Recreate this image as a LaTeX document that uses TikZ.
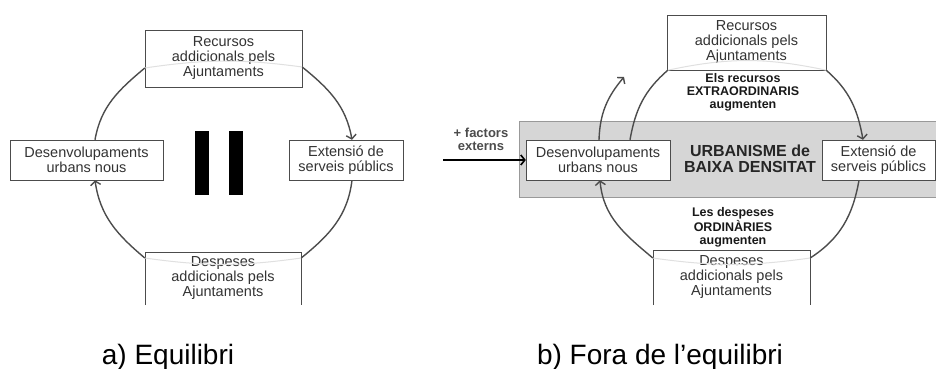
\documentclass[tikz,border=0pt]{standalone}
\usepackage{fontspec}
\setmainfont{Liberation Sans}
\usetikzlibrary{arrows.meta}

\begin{document}
\begin{tikzpicture}[>={Straight Barb[length=4pt,width=10pt]}, x=1pt, y=1pt,
    caixa/.style={draw=black!70, fill=white, align=center, text=black!80, inner sep=0pt,
        font=\fontsize{14.5}{15}\selectfont},
    fletxa/.style={draw=black!70, line width=1.4pt},
    tenue/.style={draw=black!12, line width=1pt},
    negreta/.style={align=center, text=black!90, font=\bfseries\fontsize{12.5}{13}\selectfont},
    peu/.style={font=\fontsize{28}{30}\selectfont}]
\useasboundingbox (0,0) rectangle (936,369);
% a) Equilibri
\begin{scope}
    \node[caixa, minimum width=157pt, minimum height=57pt] (rec) at (223.5,310.5) {Recursos\\addicionals pels\\Ajuntaments};
    \node[caixa, minimum width=153pt, minimum height=40pt] (des) at (86.5,209) {Desenvolupaments\\urbans nous};
    \node[caixa, minimum width=114pt, minimum height=40pt] (ext) at (346,209) {Extensió de\\serveis públics};
    \node[caixa, draw=none, minimum width=156pt, minimum height=53pt] (desp) at (223,90.5) {Despeses\\addicionals pels\\Ajuntaments};
    \draw[black!70] (desp.south west) |- (desp.north east) -- (desp.south east);
    \draw[tenue] ([yshift=-9.5pt]rec.west) to[bend left=8] ([yshift=-8.5pt]rec.east);
    \draw[tenue] ([yshift=20.5pt]desp.west) to[bend right=8] ([yshift=20.5pt]desp.east);
    \draw[fletxa] ([xshift=8.5pt]des.north) to[out=80,in=-140] ([yshift=-9.5pt]rec.west);
    \draw[fletxa,->] ([yshift=-8.5pt]rec.east) to[out=-39,in=100] ([xshift=6pt]ext.north);
    \draw[fletxa] ([xshift=6pt]ext.south) to[out=-97,in=39] ([yshift=20.5pt]desp.east);
    \draw[fletxa,->] ([yshift=20.5pt]desp.west) to[out=140,in=-82] ([xshift=8.5pt]des.south);
    \fill (195,174) rectangle (209,238);
    \fill (229,174) rectangle (243,238);
    \node[peu] (capa) at (168,12) {a) Equilibri};
\end{scope}
% b) Fora de l'equilibri
\begin{scope}
    \draw[fill=black!16, draw=black!40] (519,172) rectangle (936,248);
    \node[caixa, minimum width=159pt, minimum height=55pt] (rec2) at (746.5,326.5) {Recursos\\addicionals pels\\Ajuntaments};
    \node[caixa, minimum width=144pt, minimum height=40pt] (des2) at (598,209) {Desenvolupaments\\urbans nous};
    \node[caixa, minimum width=113pt, minimum height=40pt] (ext2) at (878.5,209) {Extensió de\\serveis públics};
    \node[caixa, draw=none, minimum width=157pt, minimum height=55pt] (desp2) at (731.5,91.5) {Despeses\\addicionals pels\\Ajuntaments};
    \draw[black!70] (desp2.south west) |- (desp2.north east) -- (desp2.south east);
    \draw[tenue] ([xshift=1pt]rec2.south west) to[bend left=12] (rec2.south east);
    \draw[tenue] ([yshift=19.5pt]desp2.west) to[bend right=8] ([yshift=19.5pt]desp2.east);
    \coordinate (amunt) at (624,292);
    \coordinate (fora) at (443,209);
    \draw[fletxa,->] ([xshift=1pt]des2.north) to[out=88,in=-130] (amunt);
    \draw[fletxa] ([xshift=32pt]des2.north) to[out=80,in=-139] ([xshift=1pt]rec2.south west);
    \draw[fletxa,->] (rec2.south east) to[out=-41,in=100] ([xshift=-15.5pt]ext2.north);
    \draw[fletxa] ([xshift=-19.5pt]ext2.south) to[out=-100,in=33] ([yshift=19.5pt]desp2.east);
    \draw[fletxa,->] ([yshift=19.5pt]desp2.west) to[out=140,in=-85] ([xshift=2pt]des2.south);
    \draw[->, line width=1.6pt] (fora) -- (des2.west);
    \node[align=center, text=black!85, font=\bfseries\fontsize{16}{15.5}\selectfont] (urb) at (750,210) {URBANISME de\\BAIXA DENSITAT};
    \node[negreta] (extra) at (743,277) {Els recursos\\EXTRAORDINARIS\\augmenten};
    \node[negreta] (ordi) at (733,142) {Les despeses\\ORDINÀRIES\\augmenten};
    \node[negreta, text=black!70, font=\bfseries\fontsize{13}{13}\selectfont] (fact) at (481,230) {+ factors\\externs};
    \node[peu] (capb) at (660,12) {b) Fora de l’equilibri};
\end{scope}
\end{tikzpicture}
\end{document}
